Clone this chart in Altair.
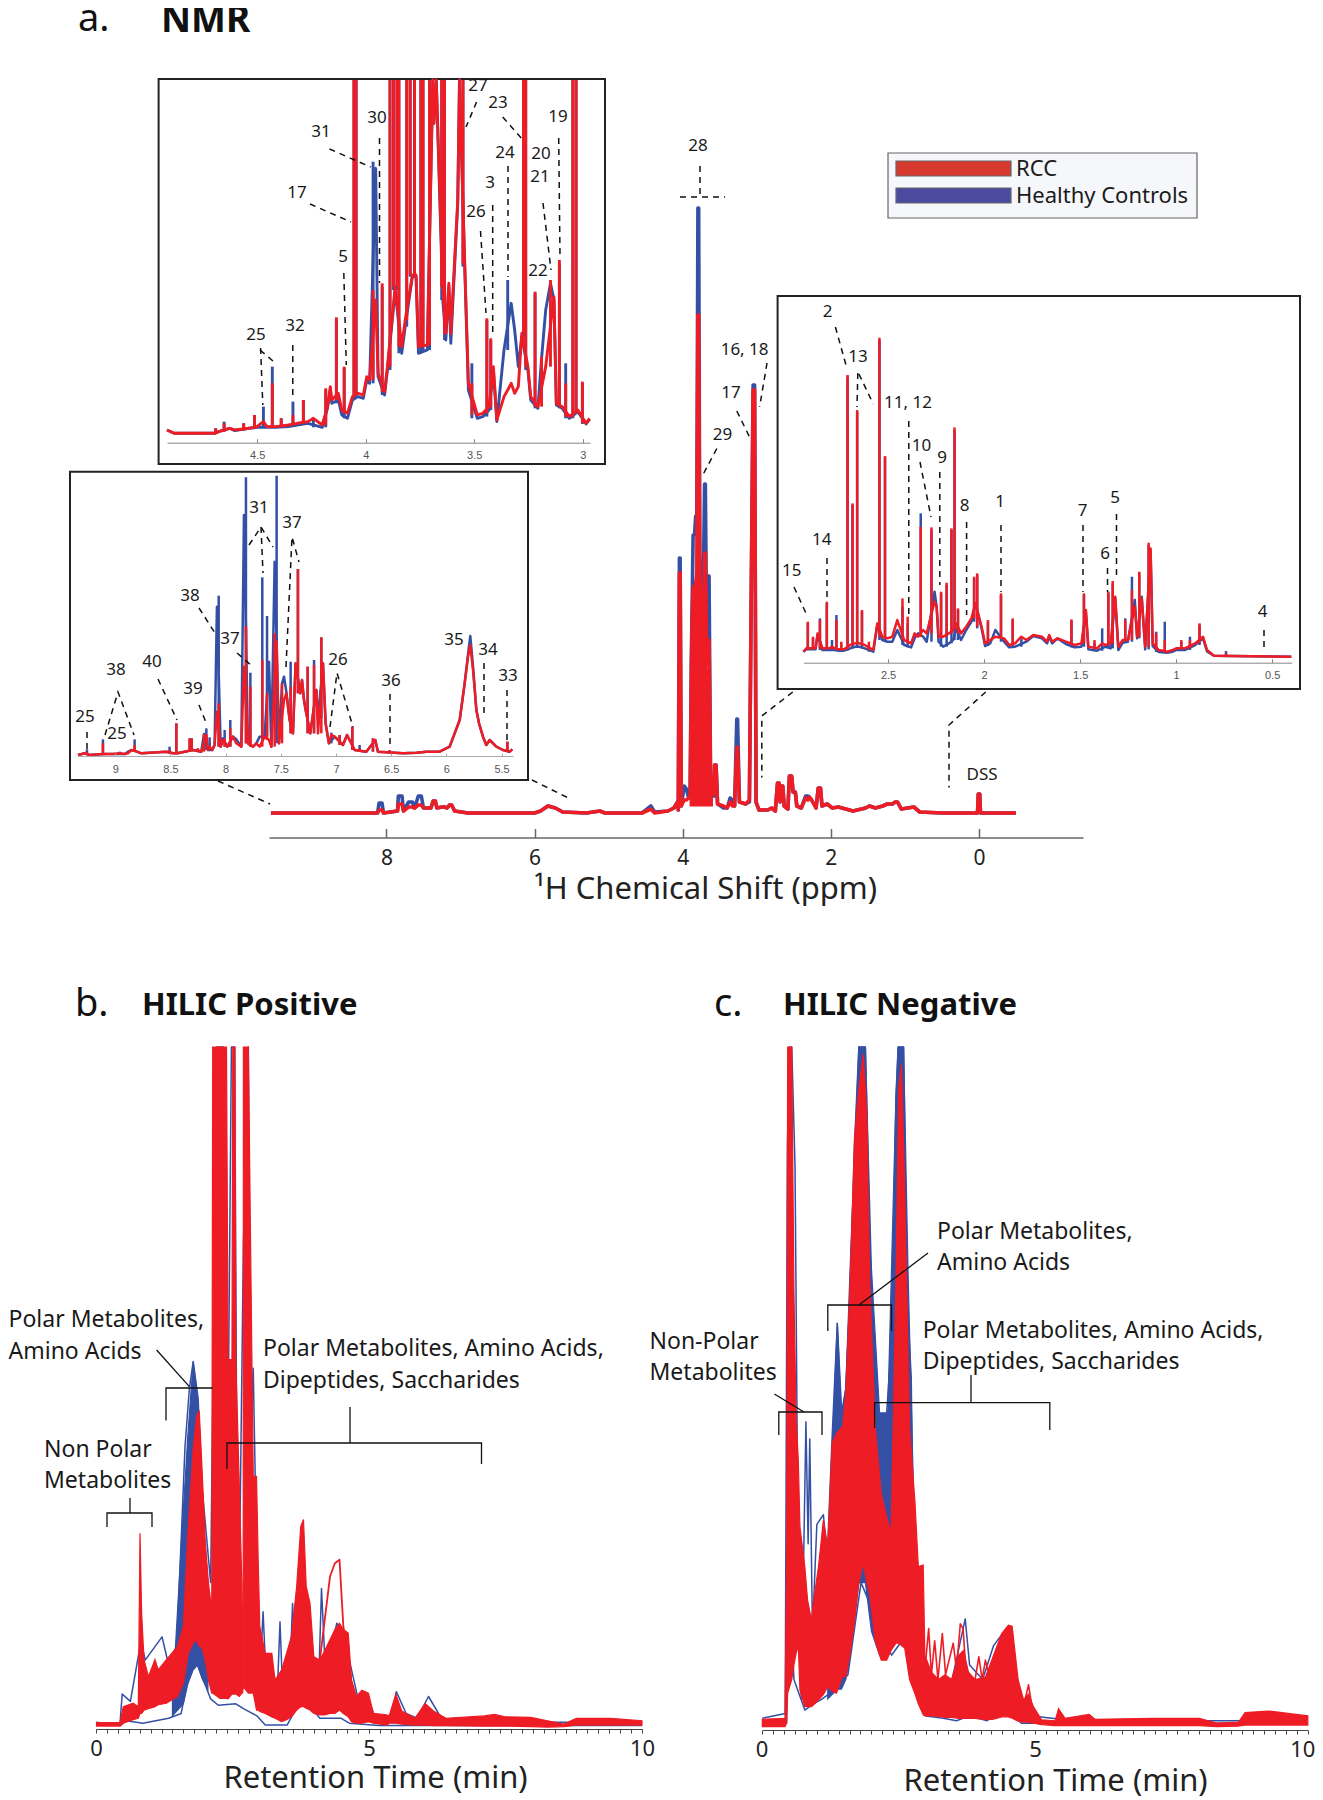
import altair as alt
import pandas as pd

RED = "#ee1c25"
BLUE = "#3350a5"
FONT = "Noto Sans"
W, H = 1307, 1788

# ---- NMR overview: ppm, RCC intensity, control intensity
MAIN = [(9.56,1,1),(8.3,1,1),(8.12,1,1),(8.10,4,11),(8.06,4,11),(8.04,1,1),(7.85,3,3),(7.84,10,18),(7.79,10,18),(7.77,3,3),(7.70,7,12),(7.65,7,12),
(7.62,6,6),(7.57,9,18),(7.53,9,18),(7.5,6,6),(7.40,6,6),(7.37,13,13),(7.34,13,13),(7.32,6,6),(7.25,7,7),(7.22,7,7),(7.18,6,6),(7.15,9,9),(7.12,9,9),
(7.08,3,3),(6.9,1,1),(6.6,1,1),
(6.0,1,1),(5.92,3,3),(5.82,8,8),(5.72,6,6),(5.62,2,2),(5.3,1,1),(5.12,3,3),(5.05,1,1),(4.55,1,1),(4.43,5,8),(4.38,1,2),(4.2,3,3),(4.12,6,6),
(4.07,12,12),(4.06,4,4),(4.045,241,256),(4.035,241,256),(4.02,8,8),(3.98,14,28),(3.95,14,25),(3.92,16,16),(3.90,20,20),
(3.885,130,150),(3.875,190,200),(3.86,227,279),(3.84,227,279),(3.825,230,298),(3.81,240,298),(3.795,499,606),(3.785,499,606),
(3.77,240,260),(3.75,190,215),(3.74,180,212),(3.72,190,240),(3.705,261,330),(3.695,261,330),(3.675,150,160),(3.66,174,238),
(3.645,174,238),(3.625,40,40),(3.60,20,20),(3.575,20,18),(3.57,49,49),(3.55,49,49),(3.53,10,10),(3.45,8,6),(3.40,6,6),
(3.36,12,16),(3.33,8,14),(3.30,8,8),(3.27,67,95),(3.26,67,95),(3.235,12,12),(3.15,10,10),(3.1,14,12),(3.05,424,429),
(3.03,424,429),(3.01,12,12),(2.97,4,4),(2.85,4,4),(2.8,6,6),(2.75,3,3),(2.72,31,31),(2.70,31,31),(2.685,12,12),(2.675,28,28),
(2.65,28,28),(2.63,8,8),(2.58,5,5),(2.56,38,38),(2.53,38,38),(2.51,22,22),(2.48,22,22),(2.46,8,8),(2.40,6,6),(2.34,16,18),
(2.31,14,18),(2.29,17,17),(2.26,14,14),(2.2,6,6),(2.17,26,26),(2.14,26,26),(2.12,8,8),(2.05,10,10),(1.98,6,6),(1.9,7,7),
(1.7,3,3),(1.53,6,6),(1.48,8,8),(1.4,6,6),(1.3,8,8),(1.24,10,10),(1.17,10,10),(1.13,12,12),(1.1,12,12),(1.05,5,5),(0.88,7,7),
(0.8,2,2),(0.5,1,1),(0.02,1,1),(0.01,20,20),(-0.01,20,20),(-0.02,1,1),(-0.5,1,1)]
# the dense overlap of many RCC spectra around the sugar region: ppm, low, high
MAIN_CLUSTER = [(3.90,8,20),(3.885,8,130),(3.875,8,190),(3.86,8,227),(3.84,8,227),(3.825,8,230),(3.80,8,240),(3.77,8,240),(3.75,8,190),(3.74,8,180),
(3.72,8,190),(3.705,8,200),(3.675,8,150),(3.645,8,120),(3.625,8,40),(3.60,8,20)]

# ---- inset 4.9-3 ppm (values above 1060 leave the box)
INSET_A = [(4.915,10,10),(4.882,0,0),(4.693,0,0),(4.691,15,15),(4.677,5,5),(4.652,30,35),(4.627,15,15),(4.603,10,8),(4.562,30,30),
(4.537,15,15),(4.512,55,55),(4.501,20,18),(4.471,35,80),(4.455,20,18),(4.430,150,200),(4.414,20,18),(4.389,45,45),(4.356,25,20),
(4.335,55,95),(4.315,30,25),(4.287,100,100),(4.266,35,30),(4.241,45,40),(4.200,25,18),(4.184,135,130),(4.176,80,75),(4.163,140,130),
(4.156,100,90),(4.135,348,340),(4.126,120,100),(4.110,70,55),(4.099,200,195),(4.084,60,45),(4.061,110,100),(4.054,1060,1060),
(4.044,1060,1060),(4.036,120,110),(4.011,115,105),(3.995,170,160),(3.982,160,150),(3.966,430,815),(3.954,400,795),(3.943,180,170),
(3.924,450,440),(3.913,125,115),(3.900,200,190),(3.888,1060,1060),(3.872,1060,1060),(3.864,440,430),(3.856,1060,1060),(3.847,1060,1060),
(3.834,260,240),(3.818,340,320),(3.811,1060,1060),(3.795,1060,1060),(3.785,475,470),(3.775,1060,1060),(3.768,475,470),(3.757,260,240),
(3.746,1060,1060),(3.736,1060,1060),(3.716,265,250),(3.706,1060,1060),(3.691,1060,1060),(3.686,930,930),(3.675,1060,1060),(3.650,1060,1060),
(3.645,440,400),(3.637,1060,1060),(3.631,300,280),(3.617,450,440),(3.608,300,270),(3.576,700,690),(3.568,1060,1060),(3.552,1060,1060),
(3.544,510,500),(3.527,150,130),(3.511,150,210),(3.486,55,45),(3.461,60,50),(3.442,345,340),(3.432,80,70),(3.424,285,280),(3.412,200,190),
(3.396,40,35),(3.363,110,250),(3.346,130,460),(3.330,150,390),(3.314,120,310),(3.297,140,200),(3.281,300,290),(3.273,1060,1060),
(3.263,1060,1060),(3.253,200,190),(3.240,110,100),(3.220,425,420),(3.207,80,75),(3.190,230,225),(3.171,200,370),(3.149,460,450),
(3.133,410,400),(3.122,90,85),(3.108,520,510),(3.095,80,75),(3.079,150,210),(3.062,50,45),(3.046,1060,1060),(3.031,1060,1060),
(3.023,70,65),(3.002,155,150),(2.985,30,28),(2.969,45,42)]

# ---- inset 9.3-5.4 ppm
INSET_B = [(9.338,0,0),(9.278,5,5),(9.257,10,17),(9.233,0,0),(9.142,2,2),(9.112,35,47),(9.091,3,3),(9.021,3,3),(8.961,5,10),(8.915,3,3),
(8.885,5,10),(8.855,15,15),(8.825,30,47),(8.804,10,10),(8.764,5,5),(8.538,10,10),(8.508,15,25),(8.477,5,5),(8.456,5,5),(8.447,95,95),
(8.438,5,5),(8.372,10,10),(8.326,50,50),(8.308,50,50),(8.296,15,15),(8.251,20,20),(8.221,10,10),(8.196,63,63),(8.175,60,80),(8.160,15,15),
(8.145,25,53),(8.121,15,15),(8.100,30,30),(8.079,130,445),(8.063,155,478),(8.045,25,25),(8.024,45,50),(8.009,50,75),(7.985,25,25),
(7.958,80,105),(7.934,55,55),(7.903,35,47),(7.858,25,25),(7.834,265,720),(7.816,387,833),(7.798,35,35),(7.776,205,247),(7.752,25,25),
(7.722,35,35),(7.692,25,55),(7.668,285,533),(7.647,55,55),(7.625,185,417),(7.607,45,280),(7.586,25,25),(7.556,365,580),(7.538,340,838),
(7.517,35,35),(7.489,215,215),(7.471,165,235),(7.450,185,190),(7.420,105,105),(7.411,205,280),(7.390,65,65),(7.366,275,275),(7.345,558,558),
(7.324,185,185),(7.308,225,225),(7.290,165,165),(7.275,135,135),(7.257,265,265),(7.233,65,65),(7.199,270,285),(7.178,195,195),(7.163,65,110),
(7.133,353,353),(7.118,275,275),(7.094,95,95),(7.064,35,35),(7.042,60,67),(7.012,55,55),(6.967,60,60),(6.937,30,30),(6.900,60,60),
(6.852,85,85),(6.831,15,15),(6.786,20,30),(6.725,10,10),(6.665,50,50),(6.644,45,45),(6.620,10,10),(6.514,15,15),(6.393,5,5),(6.272,7,7),
(6.181,10,10),(6.061,10,10),(5.970,25,25),(5.879,105,105),(5.834,215,215),(5.804,295,300),(5.783,330,357),(5.758,255,265),(5.728,135,135),(5.704,95,95),(5.668,55,55),
(5.638,30,30),(5.607,45,45),(5.547,25,25),(5.487,15,15),(5.447,40,40),(5.426,10,10),(5.402,17,17)]

# ---- inset 2.9-0.4 ppm
INSET_C = [(2.941,15,15),(2.926,25,22),(2.918,105,100),(2.903,25,22),(2.891,60,55),(2.878,25,22),(2.867,70,65),(2.855,110,115),(2.842,25,20),
(2.819,165,160),(2.806,25,20),(2.792,30,50),(2.780,25,20),(2.769,110,125),(2.756,22,18),(2.744,45,40),(2.729,22,18),(2.711,845,840),
(2.697,35,25),(2.685,460,455),(2.672,40,30),(2.661,740,735),(2.649,40,30),(2.636,140,135),(2.622,35,25),(2.600,45,35),(2.577,20,15),
(2.556,100,95),(2.545,957,950),(2.530,60,50),(2.516,602,598),(2.504,55,45),(2.478,60,45),(2.452,110,80),(2.425,175,150),(2.416,50,35),
(2.398,120,100),(2.380,40,28),(2.362,70,55),(2.344,60,70),(2.330,390,430),(2.317,80,60),(2.299,70,45),(2.274,388,380),(2.258,165,195),
(2.247,150,150),(2.237,60,45),(2.224,195,190),(2.213,60,30),(2.195,222,215),(2.183,70,40),(2.170,385,380),(2.161,80,50),(2.154,688,680),
(2.145,100,85),(2.136,145,140),(2.120,70,50),(2.093,90,80),(2.066,115,105),(2.052,240,235),(2.045,160,160),(2.036,250,245),(2.013,90,85),
(1.995,40,32),(1.980,110,105),(1.968,50,40),(1.941,60,80),(1.912,190,185),(1.896,55,45),(1.869,35,28),(1.851,115,110),(1.839,40,30),
(1.806,60,55),(1.780,50,45),(1.744,65,62),(1.699,60,55),(1.672,45,40),(1.661,65,60),(1.645,45,40),(1.618,55,55),(1.574,45,38),
(1.545,112,108),(1.529,35,28),(1.493,40,30),(1.480,190,185),(1.470,140,135),(1.457,30,22),(1.425,50,40),(1.412,25,18),(1.385,40,85),
(1.367,35,30),(1.353,195,190),(1.341,40,25),(1.330,227,220),(1.317,180,175),(1.301,30,20),(1.278,50,42),(1.265,110,115),(1.251,50,45),
(1.230,200,240),(1.215,150,170),(1.203,60,55),(1.192,255,250),(1.179,175,180),(1.161,30,22),(1.143,342,335),(1.133,325,318),(1.122,40,32),
(1.104,70,75),(1.090,20,14),(1.059,50,105),(1.045,15,12),(1.018,20,15),(1.000,25,20),(0.973,50,45),(0.955,25,20),(0.928,50,60),(0.901,40,35),
(0.878,100,95),(0.860,60,55),(0.839,20,16),(0.803,3,3),(0.740,10,17),(0.713,2,2),(0.552,2,2),(0.400,0,0)]

# ---- HILIC positive: time, lowest RCC trace, highest RCC trace (1405 = top of panel)
POS_RCC = [(.01,4,11),(.44,4,11),(.50,10,44),(.68,17,51),(.775,20,44),(.806,30,402),(.836,30,236),(.88,37,141),(.96,40,106),(1.08,44,141),(1.14,48,120),(1.29,51,141),
(1.49,65,168),(1.60,92,210),(1.69,154,416),(1.78,175,576),(1.84,182,643),(1.89,168,655),(1.935,168,553),(2.00,140,388),(2.06,99,299),(2.12,72,244),(2.137,72,1405),
(2.27,61,1405),(2.39,61,1405),(2.42,60,760),(2.49,70,760),(2.505,70,1405),(2.545,70,1405),(2.56,70,760),(2.625,65,500),(2.67,72,300),(2.685,72,80),(2.695,85,80),(2.70,85,1405),
(2.79,72,1405),(2.88,72,519),(2.94,37,519),(2.97,37,347),(3.00,34,209),(3.10,30,154),(3.22,23,154),(3.28,20,99),(3.40,13,120),(3.49,17,154),(3.58,23,189),(3.675,37,292),
(3.75,44,416),(3.80,44,430),(3.85,41,292),(3.92,37,257),(3.99,30,147),(4.10,27,140),(4.19,27,160),(4.285,30,182),(4.375,30,203),(4.46,37,216),(4.53,30,203),(4.62,23,196),
(4.68,13,99),(4.77,10,65),(4.87,10,78),(4.99,13,72),(5.08,10,30),(5.32,6,27),(5.37,10,25),(5.49,10,70),(5.60,8,35),(5.84,6,20),(6.03,6,50),(6.18,5,35),
(6.41,5,20),(7.11,4,25),(7.30,4,28),(7.49,4,23),(7.96,3,22),(8.27,2,15),(8.57,3,8),(8.80,6,20),(9.42,6,20),(10,6,15)]
POS_RCC_LOOP = [(4.10,140),(4.285,312),(4.375,340),(4.46,347),(4.53,210),(4.62,140)]
POS_CTRL_BAND = [(1.40,25,60),(1.60,50,450),(1.68,90,600),(1.78,120,756),(1.86,130,680),(1.95,100,420),(2.05,80,220)]
POS_CTRL_HIGH = [(0,10),(.44,10),(.48,70),(.63,55),(.825,180),(.90,140),(1.21,188),(1.33,130),(1.48,170),(1.63,580),(1.71,700),(1.78,756),(1.87,680),
(1.94,500),(2.10,300),(2.17,1000),(2.21,1405),(2.33,1405),(2.41,500),(2.48,1405),(2.54,1405),(2.60,70),(2.70,1000),(2.79,1405),(2.83,600),(2.88,742),
(2.95,300),(3.00,100),(3.06,240),(3.12,90),(3.32,70),(3.37,219),(3.42,70),(3.55,110),(3.60,257),(3.66,110),(3.79,100),(4.02,60),(4.08,100),(4.13,288),(4.20,120),(4.41,216),
(4.53,200),(4.64,140),(4.80,60),(4.95,70),(5.10,25),(5.45,25),(5.50,75),(5.68,30),(5.88,20),(6.09,65),(6.30,25),(6.53,12),(10,12)]
POS_CTRL_LOW = [(0,12),(.44,5),(.555,15),(.86,10),(1.33,20),(1.56,30),(1.68,100),(1.79,150),(2.10,60),(2.24,47),(2.56,50),(2.70,40),(2.95,25),(3.10,6),(3.50,6),
(3.76,60),(3.95,40),(4.10,20),(4.33,20),(4.49,20),(4.64,10),(5.18,5),(5.95,5),(10,5)]

# ---- HILIC negative
NEG_RCC = [(0,3,18),(.415,3,20),(.446,10,348),(.465,72,1405),(.54,100,1405),(.58,130,900),(.62,154,640),(.66,170,553),(.69,78,415),(.78,44,332),(.83,44,264),(.90,44,223),
(.96,50,278),(1.03,58,333),(1.12,69,429),(1.20,85,374),(1.28,76,588),(1.36,72,608),(1.47,106,622),(1.53,106,690),(1.61,154,920),(1.69,220,1220),(1.77,300,1320),
(1.85,340,1390),(1.916,300,1270),(1.97,275,920),(2.07,180,622),(2.18,140,484),(2.28,140,436),(2.36,160,402),(2.45,175,920),(2.50,175,1320),(2.55,170,1370),(2.61,165,1120),
(2.70,100,620),(2.80,70,463),(2.86,50,333),(2.95,27,336),(2.98,25,150),(3.10,25,115),(3.23,24,100),(3.35,22,110),(3.47,22,100),(3.60,20,150),(3.69,20,160),(3.78,20,115),
(3.90,20,100),(4.09,17,105),(4.24,18,150),(4.39,23,195),(4.51,23,212),(4.58,20,210),(4.69,14,99),(4.79,12,58),(4.88,12,70),(4.97,10,44),(5.12,7,17),(5.37,5,15),
(5.43,5,40),(5.55,5,20),(5.99,5,28),(6.10,5,18),(7.14,5,20),(8.01,5,20),(8.33,3,10),(8.73,4,12),(8.85,6,32),(9.28,6,35),(10,6,25)]
NEG_RCC_SPIKES = [(2.98,120),(3.05,205),(3.10,110),(3.16,180),(3.22,100),(3.30,195),(3.36,110),(3.50,175),(3.56,120),(3.63,215),(3.68,205),(3.74,110),(3.90,100),
(3.97,147),(4.03,100),(4.09,140),(4.15,110),(4.80,50),(4.88,89),(4.95,40)]
NEG_CTRL_BAND = [(1.20,60,350),(1.375,80,835),(1.45,80,640),(1.53,100,700),(1.61,150,950),(1.77,300,1405),(1.89,300,1405),(2.0,200,950),(2.15,150,650),
(2.30,180,650),(2.45,200,1300),(2.49,200,1405),(2.59,220,1405),(2.67,240,950),(2.78,100,450)]
NEG_CTRL_HIGH = [(0,20),(.42,30),(.46,1200),(.50,1405),(.54,1405),(.60,1160),(.66,300),(.715,60),(.80,632),(.84,380),(.87,596),(.92,200),(1.00,420),(1.12,440),
(1.19,350),(1.28,600),(1.375,835),(1.455,650),(1.53,700),(1.61,900),(1.69,1200),(1.77,1405),(1.89,1405),(1.97,1000),(2.09,600),(2.25,600),(2.37,800),(2.45,1300),
(2.49,1405),(2.59,1405),(2.65,900),(2.73,722),(2.80,100),(3.00,60),(3.24,100),(3.48,100),(3.72,225),(3.80,130),(4.04,100),(4.24,170),(4.44,200),(4.59,150),
(4.75,60),(4.95,25),(5.71,15),(8.81,15),(8.89,25),(10,20)]
NEG_CTRL_LOW = [(0,10),(.445,10),(.50,300),(.58,100),(.78,37),(.94,50),(1.10,60),(1.335,80),(1.57,110),(1.81,300),(2.37,150),(2.69,200),(2.85,60),(3.00,25),
(3.32,20),(3.56,15),(3.80,25),(4.12,15),(4.44,40),(4.75,10),(10,10)]

# ---- axis ticks
TICKS_MAIN = [8, 6, 4, 2, 0]
TICKS_A = [4.5, 4, 3.5, 3]
TICKS_B = [9, 8.5, 8, 7.5, 7, 6.5, 6, 5.5]
TICKS_C = [2.5, 2, 1.5, 1, 0.5]
TICKS_RT = [i / 5 for i in range(51)]

# ---- annotation text, in page positions
PEAK_LABELS = [("25",256,335),("32",295,326),("5",343,257),("17",297,193),("31",321,132),("30",377,118),("27",478,86),("23",498,103),("19",558,117),
("24",505,153),("20",541,154),("21",540,177),("3",490,183),("26",476,212),("22",538,271),
("25",85,717),("38",116,670),("25",117,734),("40",152,662),("39",193,689),("38",190,596),("37",230,639),("31",259,508),("37",292,523),("26",338,660),
("36",391,681),("35",454,640),("34",488,650),("33",508,676),
("2",827.5,312),("13",858,357),("11, 12",908,403),("10",921.5,446),("9",942,458),("8",964.6,506),("1",1000,502),("7",1082.7,511),("5",1115,498),("6",1105,554),
("14",821.7,540),("15",791.7,571),("4",1262.5,612),
("28",698,146),("16, 18",744.6,350),("17",731,393),("29",722.5,435),("DSS",982,775)]
DASHED = [[(260.6,348),(262.8,405)],[(260,350),(273,361)],[(292.8,345),(292.8,400)],[(343.8,273),(346.3,365)],[(310,204),(351,222)],[(329.5,149),(370.6,167)],
[(379.5,138),(379.5,283)],[(476.6,102),(466,127)],[(502.7,117),(523,140)],[(558.7,138),(560,257)],[(508,166),(508,277)],[(492.7,205),(492.7,335)],
[(480.5,231),(486,313)],[(543,203),(551,270)],
[(87,732),(87,750)],[(105,735),(118,692),(134,735)],[(158,679),(177,720)],[(199,705),(207,725)],[(199,608),(215,633)],[(237,653),(252,666)],
[(249,545),(261,527),(273,547)],[(261,527),(263,573)],[(286,667),(292,537),(299,562)],[(330,727),(337,673),(353,727)],[(390,694),(390,747)],[(484,663),(484,717)],
[(507,690),(507,743)],
[(835.4,327),(846.8,368)],[(857.8,373),(857,407)],[(858.9,374),(873.3,404)],[(908.8,421),(908.8,615)],[(920,462),(931,517)],[(939.8,472),(939.8,585)],
[(966.6,522),(966.6,615)],[(1001,525),(1001,592)],[(1083,525),(1083,592)],[(1116.5,514),(1116.5,578)],[(1107.5,568),(1107.5,592)],[(827,558),(827,598)],
[(794,587),(806.8,615)],[(1264,630),(1264,650)],
[(700,166),(700,197)],[(680,197),(725,197)],[(767,363),(759.6,407)],[(736.8,411),(751,440)],[(716.8,448.5),(702.8,475)],
[(792.8,692),(761.8,716),(761.8,777.5)],[(985.7,692),(949,725),(949,787.5)],[(532,780),(569.6,798.6)],[(218,781),(270,804)]]
CLASS_LABELS = [("Polar Metabolites,",8.5,1320),("Amino Acids",8.5,1352),("Polar Metabolites, Amino Acids,",263,1349),("Dipeptides, Saccharides",263,1381),
("Non Polar",44,1450),("Metabolites",44,1481),
("Polar Metabolites,",937,1231.5),("Amino Acids",937,1263),("Polar Metabolites, Amino Acids,",922.7,1331),("Dipeptides, Saccharides",922.7,1362),
("Non-Polar",649.5,1341.5),("Metabolites",649.5,1373)]
BRACKETS = [[(107,1527),(107,1513),(152,1513),(152,1527)],[(130,1513),(130,1498)],[(166,1420.5),(166,1388),(212.5,1388)],[(156.6,1350),(189.4,1386.6)],
[(227,1469),(227,1443),(481.5,1443),(481.5,1464)],[(350,1443),(350,1407)],
[(778.8,1435),(778.8,1412),(822,1412),(822,1435)],[(774.4,1394),(804,1412)],[(827.8,1331),(827.8,1305),(891.5,1305),(891.5,1331)],[(928,1253),(859,1305)],
[(874.6,1428),(874.6,1402.6),(1049.8,1402.6),(1049.8,1430)],[(971,1402.6),(971,1375)]]
FRAMES = [(158.6,605,79,464),(70,528,471.7,780),(777.6,1300,296,689)]
PANEL_LETTERS = [("a.",78,20,38),("b.",75,1005,38),("c.",714,1005,38)]
PANEL_NAMES = [("NMR",161,21,37),("HILIC Positive",142,1006,31),("HILIC Negative",783,1006,31)]
LEGEND_ITEMS = [("RCC","#d6392e",161,176,169),("Healthy Controls","#4a4ba0",188,203,196)]


def sx(d, r):
    return alt.Scale(domain=d, range=[r[0] - 8, r[1] - 8], nice=False, zero=False)


FIG_X = sx([0, 1323], [0, 1323])
FIG_Y = sx([0, 1800], [0, 1800])


def tick_axis(y_page, vals, color, width, size):
    """Axis line and ticks; the ticks of the NMR axes point up into the plot."""
    return alt.Axis(orient="top", offset=-(y_page - 8), values=vals, grid=False, labels=False, title=None, zindex=1,
                    domainColor=color, domainWidth=width, tickColor=color, tickWidth=width, tickSize=size)


def label_axis(y_page, vals, **kw):
    kw.setdefault("labelFlush", False)
    return alt.Axis(orient="bottom", offset=-(H - (y_page - 8)), values=vals, grid=False, format="~g", zindex=1, **kw)


def stick_split(rows, i):
    """Tall narrow peaks go into vertical sticks standing on the valley line."""
    keep, st = [], []
    for k, r in enumerate(rows):
        if 0 < k < len(rows) - 1:
            l, v, n = rows[k - 1][i], r[i], rows[k + 1][i]
            if v >= l and v >= n and v > 1.8 * min(l, n):
                st.append((r[0], min(l, n), v))
                continue
        keep.append((r[0], r[i]))
    return keep, st


def trace(rows, color, xd, xr, yd, yr, width=1.3, axis=None):
    df = pd.DataFrame(rows, columns=["x", "y"])
    return alt.Chart(df).mark_line(color=color, strokeWidth=width, strokeJoin="round").encode(
        x=alt.X("x:Q", scale=sx(xd, xr), axis=axis),
        y=alt.Y("y:Q", scale=sx(yd, yr), axis=None),
    )


def sticks(rows, color, xd, xr, yd, yr, width):
    df = pd.DataFrame(rows, columns=["x", "low", "high"])
    return alt.Chart(df).mark_rule(color=color, strokeWidth=width).encode(
        x=alt.X("x:Q", scale=sx(xd, xr), axis=None),
        y=alt.Y("low:Q", scale=sx(yd, yr), axis=None),
        y2=alt.Y2("high:Q"),
    )


def band(rows, color, xd, xr, yd, yr):
    df = pd.DataFrame(rows, columns=["x", "low", "high"])
    return alt.Chart(df).mark_area(fill=color, stroke=color, strokeWidth=1.2, opacity=1).encode(
        x=alt.X("x:Q", scale=sx(xd, xr), axis=None),
        y=alt.Y("low:Q", scale=sx(yd, yr), axis=None),
        y2=alt.Y2("high:Q"),
    )


def inset(rows, width, label_ax, tick_ax, **p):
    out = []
    for i, color, ax in ((2, BLUE, label_ax), (1, RED, tick_ax)):
        keep, st = stick_split(rows, i)
        out.append(trace(keep, color, width=width, axis=ax, **p))
        out.append(sticks(st, color, width=width, **p))
    return out


def page_lines(paths, dash=None, width=1.5):
    rows = [dict(p=i, o=j, x=x, y=y) for i, path in enumerate(paths) for j, (x, y) in enumerate(path)]
    kw = {"strokeDash": dash} if dash else {}
    return alt.Chart(pd.DataFrame(rows)).mark_line(color="#111", strokeWidth=width, **kw).encode(
        x=alt.X("x:Q", scale=FIG_X, axis=None),
        y=alt.Y("y:Q", scale=FIG_Y, axis=None),
        detail="p:N",
        order="o:Q",
    )


def page_text(rows, size, align="center", weight="normal", color="#1a1a1a"):
    df = pd.DataFrame(rows, columns=["t", "x", "y"])
    return alt.Chart(df).mark_text(font=FONT, fontSize=size, align=align, baseline="middle", fontWeight=weight, color=color).encode(
        x=alt.X("x:Q", scale=FIG_X, axis=None),
        y=alt.Y("y:Q", scale=FIG_Y, axis=None),
        text="t:N",
    )


def page_rects(rows, fill, stroke, width):
    df = pd.DataFrame(rows, columns=["x", "x2", "y", "y2"])
    return alt.Chart(df).mark_rect(fill=fill, stroke=stroke, strokeWidth=width).encode(
        x=alt.X("x:Q", scale=FIG_X, axis=None),
        x2=alt.X2("x2:Q"),
        y=alt.Y("y:Q", scale=FIG_Y, axis=None),
        y2=alt.Y2("y2:Q"),
    )


layers = []

# overview spectrum
m = dict(xd=[9.586, -1.404], xr=[269, 1083], yd=[0, 606], yr=[814, 208])
main_rows_ctrl = [(r[0], r[2]) for r in MAIN]
main_rows_rcc = [(r[0], r[1]) for r in MAIN]
main_labels = label_axis(837.5, TICKS_MAIN, ticks=False, domain=False, labelFont=FONT, labelFontSize=21, labelColor="#222", labelPadding=10,
                         title="\u00b9H Chemical Shift (ppm)", titleFont=FONT, titleFontSize=31, titleFontWeight="normal", titleColor="#222",
                         titleX=697, titleY=60.5, titleBaseline="alphabetic", titleAlign="center")
layers += [
    trace(main_rows_ctrl, BLUE, width=3.6, axis=main_labels, **m),
    band(MAIN_CLUSTER, RED, **m),
    trace(main_rows_rcc, RED, width=3.6, axis=tick_axis(837.5, TICKS_MAIN, "#666", 1.5, 9), **m),
]

# inset frames
layers.append(page_rects(FRAMES, "white", "#222", 2))


def small_labels(y, vals):
    return label_axis(y, vals, title=None, ticks=False, domain=False, labelFont="Liberation Sans", labelFontSize=11, labelColor="#555", labelPadding=7)


a = dict(xd=[4.915, 2.967], xr=[167, 590], yd=[0, 1060], yr=[433.3, 80])
layers += inset(INSET_A, 2.9, small_labels(442.7, TICKS_A), tick_axis(442.7, TICKS_A, "#888", 1, 4), **a)
b = dict(xd=[9.338, 5.396], xr=[78, 513], yd=[0, 925], yr=[755, 446.7])
layers += inset(INSET_B, 2.5, small_labels(756, TICKS_B), tick_axis(756, TICKS_B, "#aaa", 1, 3), **b)
c = dict(xd=[2.941, 0.398], xr=[803.4, 1291.7], yd=[0, 1000], yr=[656.7, 323.4])
layers += inset(INSET_C, 2.5, small_labels(662.7, TICKS_C), tick_axis(662.7, TICKS_C, "#888", 1, 4), **c)


def rt_axis(y, title_x, title_y, **kw):
    return label_axis(y, TICKS_RT, title="Retention Time (min)", domainColor="#444", domainWidth=1.2, tickColor="#444", tickWidth=1, tickSize=4,
                      labelFont=FONT, labelFontSize=22, labelColor="#222", labelPadding=5, labelExpr="datum.value % 5 === 0 ? datum.label : ''",
                      titleFont=FONT, titleFontSize=31, titleFontWeight="normal", titleColor="#222",
                      titleX=title_x, titleY=title_y, titleBaseline="alphabetic", titleAlign="center", **kw)


p = dict(xd=[0, 10], xr=[96, 642], yd=[0, 1405], yr=[1728, 1047])
layers += [trace(POS_CTRL_HIGH, BLUE, width=1.5, axis=rt_axis(1729, 367, 58), **p), band(POS_CTRL_BAND, BLUE, **p), trace(POS_CTRL_LOW, BLUE, width=1.5, **p),
           band(POS_RCC, RED, **p), trace(POS_RCC_LOOP, RED, width=1.8, **p)]
n = dict(xd=[0, 10], xr=[762.3, 1307.8], yd=[0, 1405], yr=[1728, 1047])
layers += [trace(NEG_CTRL_HIGH, BLUE, width=1.5, axis=rt_axis(1730, 1047, 60, labelFlush=True, labelFlushOffset=7), **n), band(NEG_CTRL_BAND, BLUE, **n),
           trace(NEG_CTRL_LOW, BLUE, width=1.5, **n), band(NEG_RCC, RED, **n), trace(NEG_RCC_SPIKES, RED, width=1.6, **n)]

# annotations
layers.append(page_lines(DASHED, dash=[6, 5], width=1.5))
layers.append(page_lines(BRACKETS, width=1.3))
layers.append(page_text(PEAK_LABELS, 17))
layers.append(page_text(CLASS_LABELS, 23, align="left"))
for t, x, y, s in PANEL_LETTERS:
    layers.append(page_text([(t, x, y)], s, align="left", color="#111"))
for t, x, y, s in PANEL_NAMES:
    layers.append(page_text([(t, x, y)], s, align="left", weight="bold", color="#111"))

# legend box
layers.append(page_rects([(888, 1197, 153, 218)], "#f6f7fb", "#666", 1.2))
for name, col, y0, y1, yt in LEGEND_ITEMS:
    layers.append(page_rects([(896, 1011, y0, y1)], col, "#666", 1.2))
    layers.append(page_text([(name, 1016, yt)], 22, align="left"))

chart = alt.layer(*layers).resolve_scale(x="independent", y="independent").properties(
    width=W, height=H, padding=0, autosize=alt.AutoSizeParams(type="none"), background="white"
).configure_view(stroke=None)

chart.save("out.html", embed_options={"renderer": "svg", "actions": False})
